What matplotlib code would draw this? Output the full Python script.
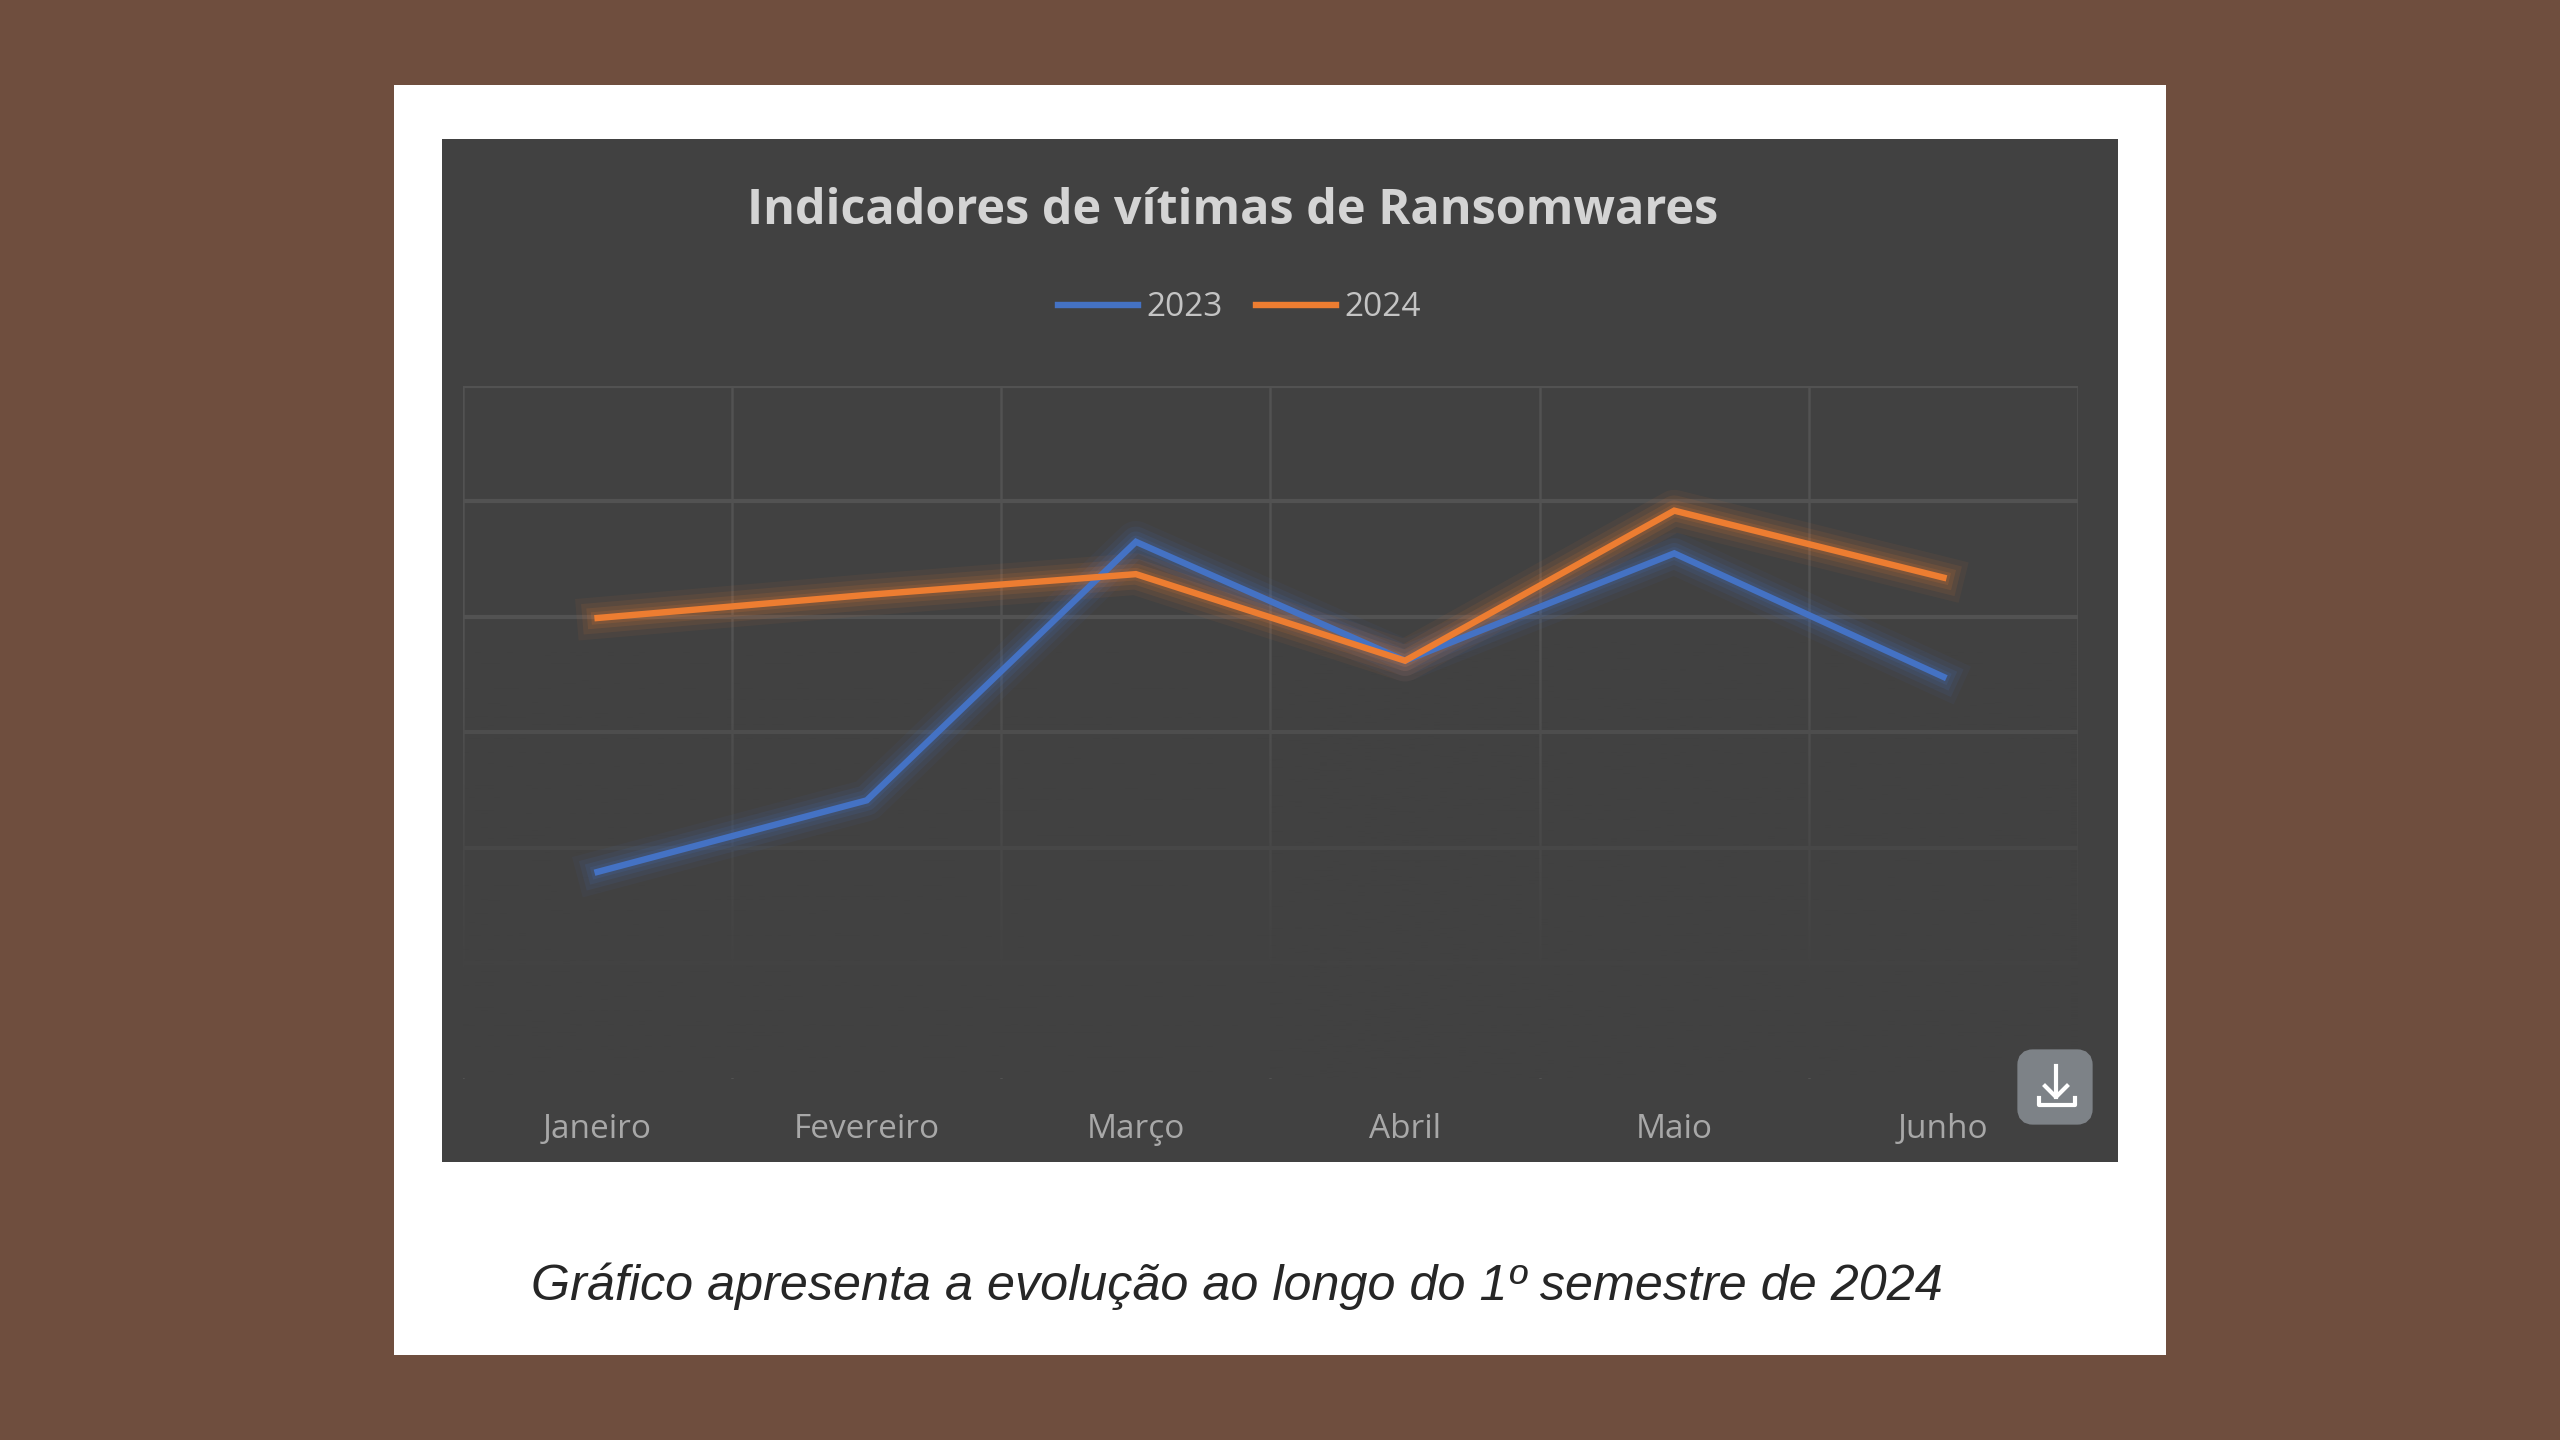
import numpy as np
import matplotlib
matplotlib.use('Agg')
import matplotlib.pyplot as plt
from matplotlib.patches import Rectangle, FancyBboxPatch

meses = ['Janeiro', 'Fevereiro', 'Março', 'Abril', 'Maio', 'Junho']
vitimas_2023 = [179, 241, 465, 362, 455, 348]
vitimas_2024 = [399, 419, 437, 362, 492, 434]
anos = ['2023', '2024']
grade_y = [100, 200, 300, 400, 500, 600]

titulo = 'Indicadores de vítimas de Ransomwares'
legenda = 'Gráfico apresenta a evolução ao longo do 1º semestre de 2024'

W, H = 2560, 1440
fundo = '#6f4e3e'
painel = '#414141'
azul = '#4472c4'
laranja = '#ed7d31'

fig = plt.figure(figsize=(W / 100, H / 100), dpi=100, facecolor=fundo)

# card branco e painel escuro, em pixels
bg = fig.add_axes([0, 0, 1, 1], zorder=0)
bg.set_xlim(0, W)
bg.set_ylim(H, 0)
bg.axis('off')
bg.add_patch(Rectangle((394, 85), 1772, 1270, fc='white', ec='none'))
bg.add_patch(Rectangle((442, 139), 1676, 1023, fc=painel, ec='none'))
bg.text(1233, 211, titulo, family='Open Sans', weight='bold', fontsize=35,
        color='#d4d4d4', ha='center', va='center')
bg.text(531, 1286, legenda, family='Liberation Sans', style='italic', fontsize=36.15,
        color='#262626', ha='left', va='center')

# grafico
left, right, top, bottom = 463, 2078, 386, 1078.5
ax = fig.add_axes([left / W, 1 - bottom / H, (right - left) / W, (bottom - top) / H], zorder=1)
ax.patch.set_alpha(0)
for s in ax.spines.values():
    s.set_visible(False)

x = np.arange(len(meses))
ax.set_xticks(x)
ax.set_xticklabels(meses, fontsize=24, color='#a8a8a8', family='Open Sans')
ax.set_xticks(np.arange(len(meses) + 1) - 0.5, minor=True)
ax.set_yticks(grade_y)
ax.tick_params(axis='both', which='both', length=0, labelleft=False)
ax.tick_params(axis='x', which='major', pad=24.7)
ax.grid(False)
ax.grid(True, axis='x', which='minor', color='#525252', lw=1.8, zorder=0.5)
ax.grid(True, axis='y', which='major', color='#525252', lw=3, zorder=0.5)
ax.set_axisbelow(True)

# a grade some na parte de baixo
rgba = np.zeros((256, 1, 4))
rgba[..., :3] = matplotlib.colors.to_rgb(painel)
rgba[:, 0, 3] = np.clip(np.linspace(-0.766, 1.28, 256), 0, 1)
ax.imshow(rgba, extent=[-0.5, 5.5, -5, 610], origin='upper', aspect='auto', zorder=1.5)

for serie, cor, ano in zip([vitimas_2023, vitimas_2024], [azul, laranja], anos):
    # brilho em volta da linha
    for lw, a in [(30, 0.06), (22, 0.09), (15, 0.12), (9, 0.15)]:
        ax.plot(x, serie, color=cor, lw=lw, alpha=a, zorder=2, solid_joinstyle='round')
    ax.plot(x, serie, color=cor, lw=4.6, label=ano, zorder=3, solid_joinstyle='miter')

ax.set_xlim(-0.5, 5.5)
ax.set_ylim(0, 600)

leg = ax.legend(loc='center', bbox_to_anchor=(1239 / W, 1 - 308 / H), bbox_transform=fig.transFigure,
                ncol=2, frameon=False, labelcolor='#c4c4c4', handlelength=2.4,
                handletextpad=0.25, columnspacing=1.0, prop={'family': 'Open Sans', 'size': 24})

# botao de download
over = fig.add_axes([0, 0, 1, 1], zorder=2)
over.set_xlim(0, W)
over.set_ylim(H, 0)
over.axis('off')
over.add_patch(FancyBboxPatch((2025, 1057), 60, 60, boxstyle='round,pad=0,rounding_size=8',
                              mutation_aspect=1, fc='#7d8287', ec='#7d8287', lw=11))
over.plot([2056, 2056], [1066, 1097], color='white', lw=3)
over.plot([2045, 2056, 2067], [1086, 1097, 1086], color='white', lw=3)
over.plot([2039, 2039, 2075, 2075], [1098, 1105, 1105, 1098], color='white', lw=3)

fig.savefig('out.png', dpi=100, facecolor=fundo)
